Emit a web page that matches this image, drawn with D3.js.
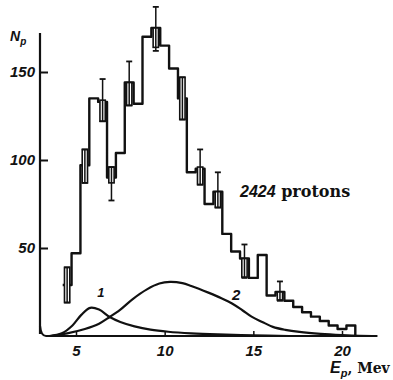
<!DOCTYPE html>
<html>
<head>
<meta charset="utf-8">
<script src="https://cdn.jsdelivr.net/npm/d3@7"></script>
<style>
  body { margin: 0; background: #fff; }
  text { fill: #111; }
</style>
</head>
<body>
<div id="chart"></div>
<script>
// proton spectrum, 0.5 Mev bins starting at 4.25 Mev
const binStart = 4.25;
const binWidth = 0.5;
const counts = [29, 47, 97, 135, 133, 90, 104, 144, 132, 170, 175, 165, 152, 135, 93, 95,
                75, 82, 58, 48, 44, 33, 46, 23, 25, 20, 16.5, 13.5, 11, 8.5, 6, 4, 6];

// error bars: bin index, box low/high, bar low/high
const errBins = [0, 2, 4, 5, 7, 10, 13, 15, 17, 20, 24];
const boxLo = [19, 87, 122, 87, 131, 164, 123, 86, 73, 33.5, 20.5];
const boxHi = [39, 106, 134, 96, 144, 175, 147, 96, 82, 44, 25];
const barLo = [19, 87, 122, 77, 131, 162, 123, 86, 73, 33, 20];
const barHi = [39, 106, 146, 96, 156, 187, 147, 106, 93, 52, 31];

// computed components 1 and 2
const curve1 = [[3.5, 0], [4.2, 1.5], [4.8, 6], [5.3, 12], [5.8, 16], [6.3, 15], [6.9, 10.8],
                [7.5, 8], [8.3, 5.5], [9.2, 3.6], [10.2, 2.4], [11.5, 1.5], [13, 0.9], [15, 0.4], [17, 0]];
const curve2 = [[3.6, 0], [4.5, 1.5], [5.5, 4], [6.3, 7], [6.9, 10.8], [7.5, 15], [8.2, 21],
                [9, 26.5], [9.7, 29.8], [10.3, 30.7], [11, 30], [11.5, 28.4], [12.5, 24.5],
                [13.2, 21.5], [13.8, 18.5], [14.4, 14.5], [14.9, 11], [15.5, 8], [16.1, 5.2],
                [16.8, 3.5], [17.6, 2.3], [18.8, 1.2], [20, 0.5], [21, 0.1], [22, 0]];

const xTicks = [5, 10, 15, 20];
const yTicks = [50, 100, 150];

const width = 393, height = 380;

const svg = d3.select("#chart")
  .append("svg")
  .attr("width", width)
  .attr("height", height);

const x = d3.scaleLinear().domain([5, 20]).range([76, 342]);
const y = d3.scaleLinear().domain([0, 150]).range([336, 72]);

const ink = "#111";

// axes lines
svg.append("line")
  .attr("x1", 40).attr("x2", 40)
  .attr("y1", 33).attr("y2", 334)
  .attr("stroke", ink).attr("stroke-width", 2.2);
svg.append("path")
  .attr("d", `M40,326 Q41,336 46,336 L372,336`)
  .attr("fill", "none")
  .attr("stroke", ink).attr("stroke-width", 2.2);

const xAxis = svg.append("g")
  .attr("transform", `translate(0,${y(0)})`)
  .call(d3.axisBottom(x).tickValues(xTicks).tickSize(-5).tickPadding(9));
xAxis.select(".domain").remove();
xAxis.selectAll("line").attr("stroke", ink).attr("stroke-width", 1.5);
xAxis.selectAll("text")
  .attr("font-family", "Liberation Sans, Arial, sans-serif")
  .attr("font-style", "italic")
  .attr("font-weight", "bold")
  .attr("font-size", 15)
  .attr("fill", ink);

const yAxis = svg.append("g")
  .attr("transform", "translate(40,0)")
  .call(d3.axisLeft(y).tickValues(yTicks).tickSize(-8).tickPadding(5));
yAxis.select(".domain").remove();
yAxis.selectAll("line").attr("stroke", ink).attr("stroke-width", 2);
yAxis.selectAll("text")
  .attr("font-family", "Liberation Sans, Arial, sans-serif")
  .attr("font-style", "italic")
  .attr("font-weight", "bold")
  .attr("font-size", 15)
  .attr("fill", ink);

// histogram as a step line
const steps = [];
counts.forEach((c, i) => {
  const e0 = binStart + i * binWidth;
  steps.push([e0, c], [e0 + binWidth, c]);
});
steps.push([binStart + counts.length * binWidth, 0]);

const line = d3.line().x(d => x(d[0])).y(d => y(d[1]));

svg.append("path")
  .datum(steps)
  .attr("d", line)
  .attr("fill", "none")
  .attr("stroke", ink)
  .attr("stroke-width", 2.4)
  .attr("stroke-linejoin", "round");

// error boxes and bars
const bw = x(binWidth) - x(0);
errBins.forEach((b, i) => {
  const cx = x(binStart + (b + 0.5) * binWidth);
  svg.append("rect")
    .attr("x", cx - bw * 0.3)
    .attr("width", bw * 0.6)
    .attr("y", y(boxHi[i]))
    .attr("height", y(boxLo[i]) - y(boxHi[i]))
    .attr("fill", "#fff")
    .attr("stroke", ink)
    .attr("stroke-width", 1.6);
  svg.append("line")
    .attr("x1", cx).attr("x2", cx)
    .attr("y1", y(barLo[i])).attr("y2", y(barHi[i]))
    .attr("stroke", ink).attr("stroke-width", 1.5);
  [barLo[i], barHi[i]].forEach(v => {
    svg.append("line")
      .attr("x1", cx - 3).attr("x2", cx + 3)
      .attr("y1", y(v)).attr("y2", y(v))
      .attr("stroke", ink).attr("stroke-width", 1.8);
  });
});

// components
const smooth = d3.line().x(d => x(d[0])).y(d => y(d[1])).curve(d3.curveCatmullRom);
[curve1, curve2].forEach(c => {
  svg.append("path")
    .datum(c)
    .attr("d", smooth)
    .attr("fill", "none")
    .attr("stroke", ink)
    .attr("stroke-width", 2.2);
});

const italic = g => g
  .attr("font-family", "Liberation Sans, Arial, sans-serif")
  .attr("font-style", "italic")
  .attr("font-weight", "bold")
  .attr("fill", ink);

svg.append("text").attr("x", x(6.2)).attr("y", y(22)).attr("font-size", 13).call(italic).text("1");
svg.append("text").attr("x", x(13.8)).attr("y", y(20.5)).attr("font-size", 15).call(italic).text("2");

// annotation
const note = svg.append("text")
  .attr("x", 240).attr("y", 197)
  .attr("font-size", 16);
note.append("tspan").call(italic).text("2424");
note.append("tspan")
  .attr("font-family", "DejaVu Serif, Liberation Serif, serif")
  .attr("font-weight", "bold")
  .attr("font-size", 16)
  .text(" protons");

// axis titles
const yt = svg.append("text").attr("x", 10).attr("y", 41).attr("font-size", 14).call(italic);
yt.append("tspan").text("N");
yt.append("tspan").attr("font-size", 10).attr("dy", 4).text("p");

const xt = svg.append("text").attr("x", 330).attr("y", 373).attr("font-size", 16);
xt.append("tspan").call(italic).text("E");
xt.append("tspan").call(italic).attr("font-size", 11).attr("dy", 4).text("p");
xt.append("tspan")
  .attr("dy", -4)
  .attr("font-family", "DejaVu Serif, Liberation Serif, serif")
  .attr("font-weight", "bold")
  .attr("font-size", 14)
  .text(", Mev");
</script>
</body>
</html>
